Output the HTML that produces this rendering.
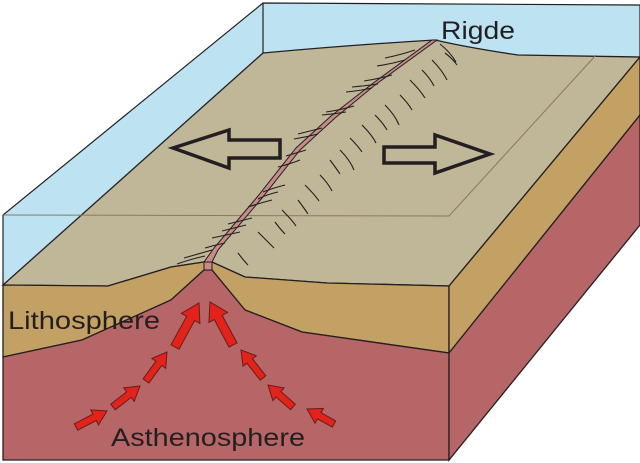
<!DOCTYPE html>
<html><head><meta charset="utf-8"><style>
html,body{margin:0;padding:0;background:#fff;}
svg{display:block}
text{font-family:"Liberation Sans",sans-serif;fill:#231f20}
</style></head><body>
<svg id="s" width="640" height="463" viewBox="0 0 640 463" xmlns="http://www.w3.org/2000/svg">
<polygon points="263,3 640,5 640,60 449,286 3,286 3,215" fill="#bde3f3"/>
<path d="M3,285 L108,286 L171,267 L204,262 L212,262 L245,277 L327,283 L449,286 L640,57 L518,55 Q470,48 435,40 Q350,45 263,53 Z" fill="#bfb797" stroke="#231f20" stroke-width="1.3"/>
<path d="M3,285 L108,286 L171,267 L204,262 L212,262 L245,277 L327,283 L449,286 L449,353 L302,332 L245,310 L212,270 L204,270 L171,300 L82,340 L3,357 Z" fill="#c3a064" stroke="#231f20" stroke-width="1.3"/>
<polygon points="449,286 640,57 640,115 449,353" fill="#c3a064" stroke="#231f20" stroke-width="1.3"/>
<path d="M3,357 L82,340 L171,300 L204,270 L212,270 L245,310 L302,332 L449,353 L449,460 L3,460 Z" fill="#b76668" stroke="#231f20" stroke-width="1.3"/>
<polygon points="449,353 640,115 640,225 449,460" fill="#b76668" stroke="#231f20" stroke-width="1.3"/>
<g fill="none" stroke="#231f20" stroke-width="1.2">
<polyline points="3,285 3,215 263,3 640,5 640,57"/>
<line x1="263" y1="3" x2="263" y2="53"/>
</g>
<g fill="none" stroke="#8a7a5a" stroke-width="1">
<polyline points="3,215 449,216 596,55"/>
</g>
<path d="M204,262 L212,262 L218,250 L262,198 L300,150 L335,118 L375,85 L437,40 L432,40 L372,84 L331,116 L296,148 L258,196 L214,248 Z" fill="#c98a8a" stroke="#231f20" stroke-width="1"/>
<rect x="204" y="262" width="8" height="8" fill="#c98a8a" stroke="#231f20" stroke-width="1"/>
<g fill="none" stroke="#231f20" stroke-width="1.1">
<path d="M415,50 q-15,5 -30,8"/><path d="M405,60 q-14,4 -28,6"/>
<path d="M392,75 q-14,4 -28,6"/><path d="M378,84 q-14,2 -26,3"/><path d="M372,88 q-14,3 -26,4"/>
<path d="M354,106 q-14,4 -28,6"/><path d="M346,112 q-12,2 -24,3"/>
<path d="M322,128 q-12,3 -24,6"/><path d="M318,134 q-12,3 -24,5"/>
<path d="M306,150 q-10,3 -20,6"/><path d="M300,160 q-10,4 -22,7"/>
<path d="M285,185 q-12,3 -22,7"/><path d="M278,192 q-10,2 -20,7"/><path d="M272,200 q-12,3 -24,7"/>
<path d="M252,218 q-12,3 -24,6"/><path d="M246,225 q-12,3 -24,6"/><path d="M240,232 q-14,3 -28,6"/>
<path d="M212,250 q-14,4 -28,8"/><path d="M205,256 q-14,3 -28,8"/><path d="M225,243 q-10,2 -20,5"/>
<path d="M440,44 q10,8 16,18"/><path d="M445,53 q8,6 12,12"/>
<path d="M432,60 q10,10 15,20"/><path d="M422,70 q8,8 12,16"/>
<path d="M410,80 q10,10 15,18"/><path d="M400,95 q8,8 12,15"/>
<path d="M385,105 q10,10 14,20"/><path d="M375,115 q8,8 12,15"/>
<path d="M362,125 q10,10 14,18"/><path d="M350,138 q8,8 12,14"/>
<path d="M340,150 q10,10 14,20"/><path d="M330,160 q6,8 10,14"/>
<path d="M320,175 q8,8 12,16"/><path d="M305,185 q10,10 14,16"/>
<path d="M298,200 q6,8 10,14"/><path d="M282,210 q10,10 14,16"/>
<path d="M275,222 q6,8 10,12"/><path d="M258,232 q10,10 16,16"/><path d="M238,253 q6,8 10,12"/>
</g>
<polygon points="173,148 229,130 229,140 280,140 280,158 229,158 229,168" fill="none" stroke="#231f20" stroke-width="3.5" stroke-linejoin="miter"/>
<polygon points="490,154 435,135 435,147 384,147 384,163 435,163 435,173" fill="none" stroke="#231f20" stroke-width="3.5"/>
<g id="ra" fill="#e2231a" stroke="#6b1a1a" stroke-width="1"></g>
<text x="441" y="39" font-size="25" textLength="74" lengthAdjust="spacingAndGlyphs">Rigde</text>
<text x="8" y="329" font-size="25" textLength="152" lengthAdjust="spacingAndGlyphs">Lithosphere</text>
<text x="111" y="446" font-size="25" textLength="194" lengthAdjust="spacingAndGlyphs">Asthenosphere</text>
</svg>
<script>
var arrs=[[76,427,107,411,1],[113,407,140,386,1],[146,381,167,352,1],[175,347,199,303,1.25],
[334,424,307,409,1],[293,407,268,385,1],[263,378,241,350,1],[233,345,210,302,1.25]];
var g=document.getElementById('ra'),s='';
arrs.forEach(function(a){
 var dx=a[2]-a[0],dy=a[3]-a[1],L=Math.hypot(dx,dy),ux=dx/L,uy=dy/L,px=-uy,py=ux,k=a[4];
 var sw=3.6*k,hw=8.5*k,hl=14*k;
 var bx=a[2]-ux*hl,by=a[3]-uy*hl;
 var p=[[a[0]+px*sw,a[1]+py*sw],[bx+px*sw,by+py*sw],[bx+px*hw,by+py*hw],[a[2],a[3]],[bx-px*hw,by-py*hw],[bx-px*sw,by-py*sw],[a[0]-px*sw,a[1]-py*sw]];
 s+='<polygon points="'+p.map(function(q){return q[0].toFixed(1)+','+q[1].toFixed(1)}).join(' ')+'"/>';
});
g.innerHTML=s;
</script>
</body></html>
